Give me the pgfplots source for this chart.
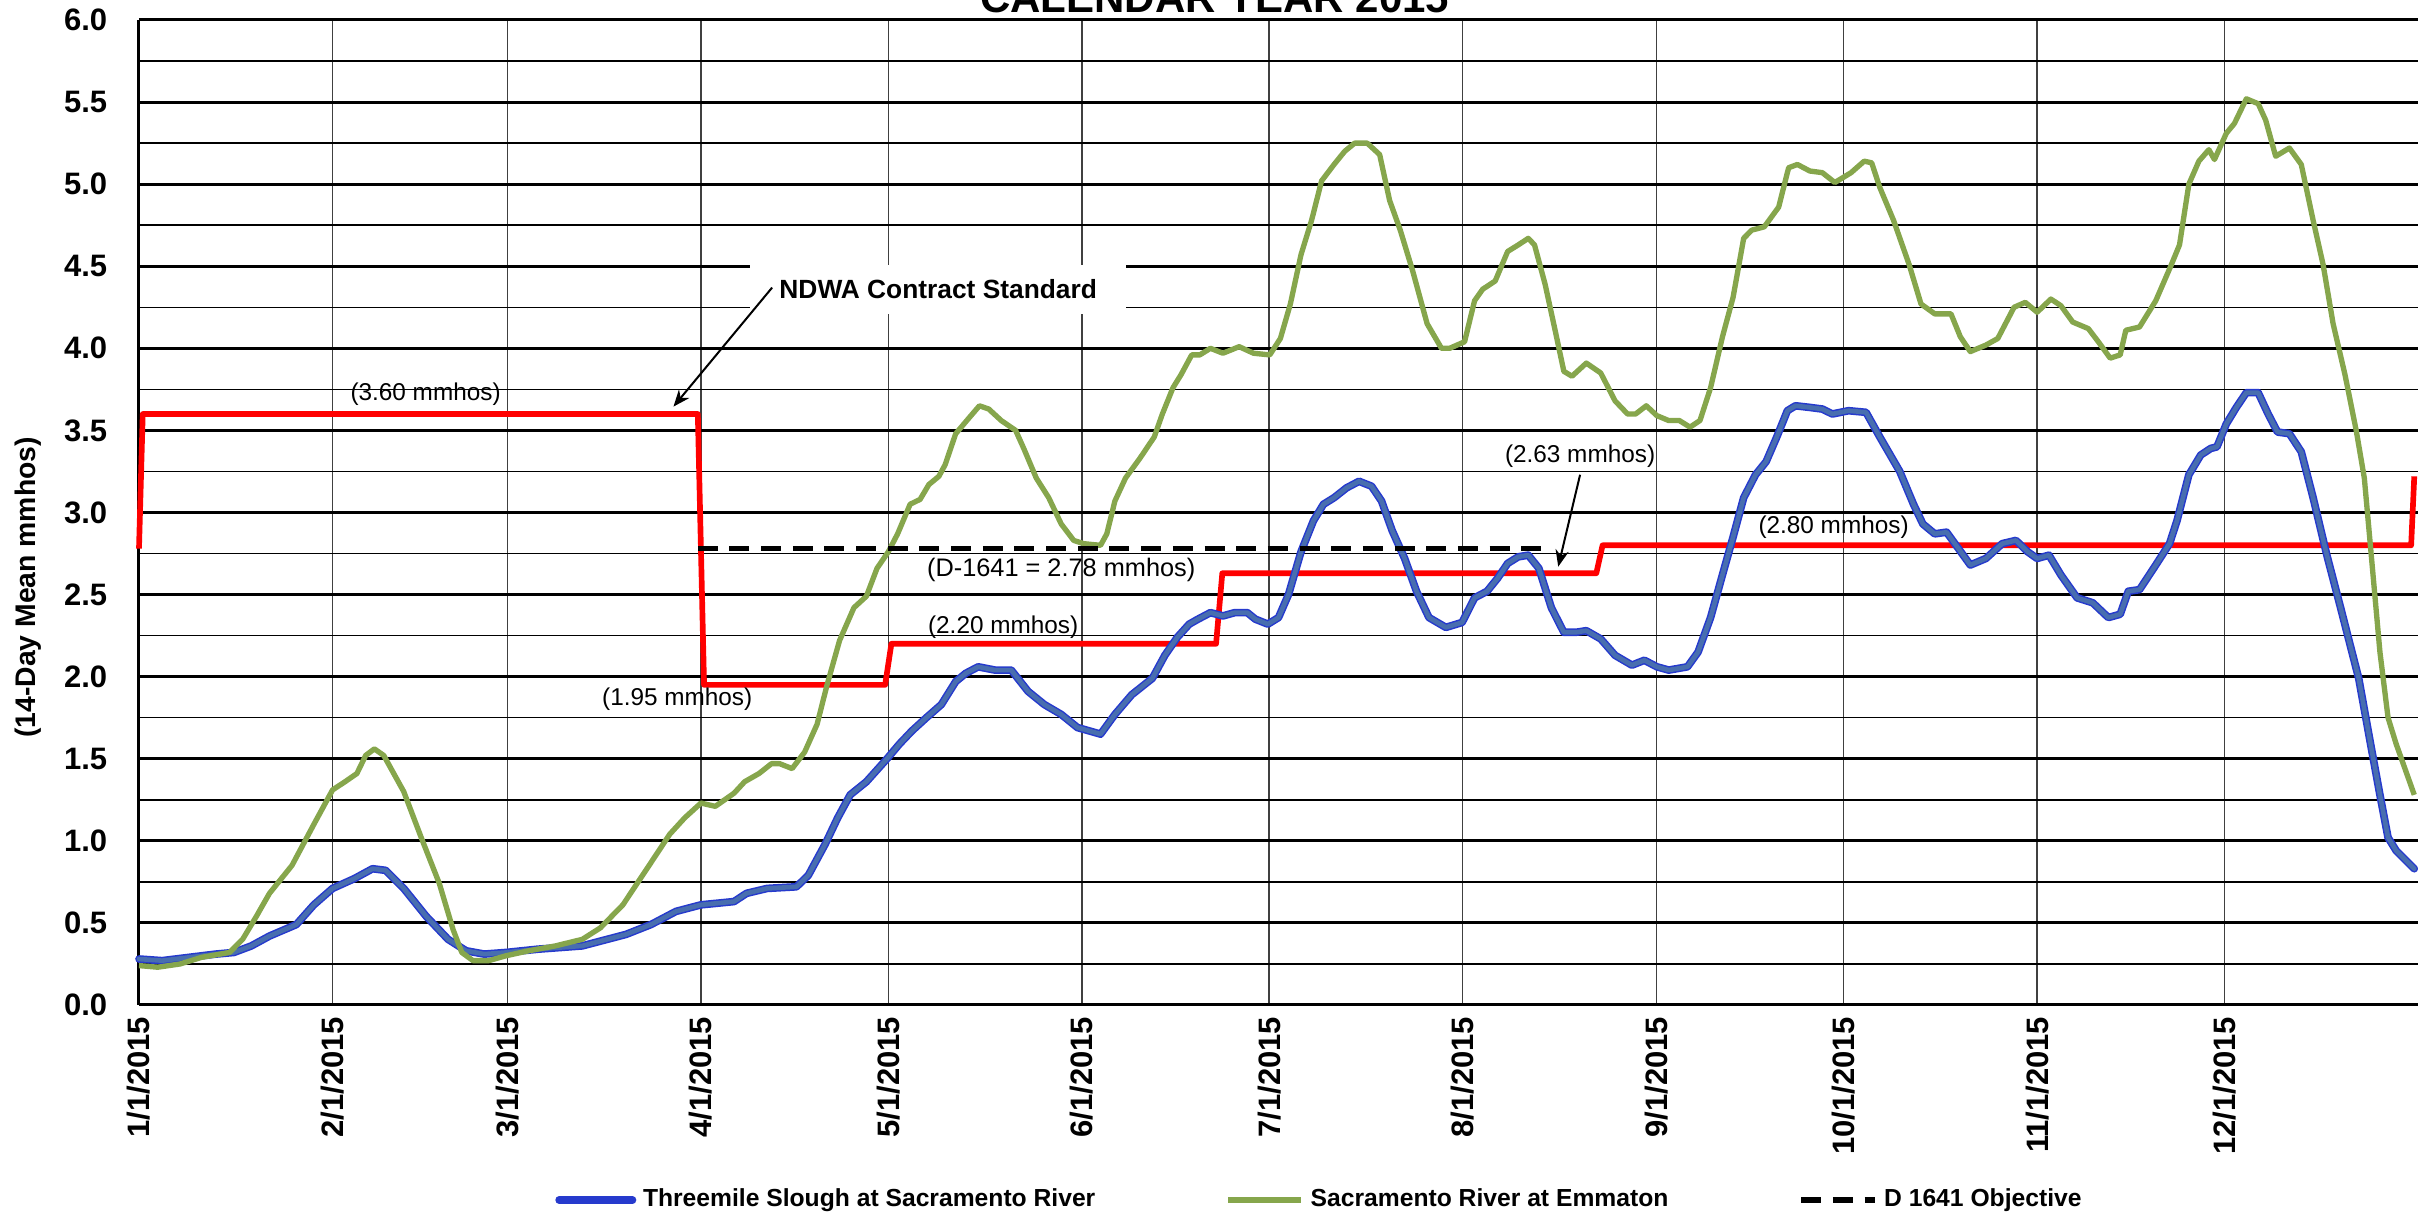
\documentclass[border=0pt]{standalone}
\usepackage{pgfplots}
\usepackage{pgfplotstable}
\pgfplotsset{compat=1.18}
\usepackage{fontspec}
\setmainfont{Liberation Sans}
\usetikzlibrary{arrows.meta}
\definecolor{blueout}{RGB}{38,58,205}
\definecolor{bluein}{RGB}{72,110,175}
\definecolor{greenl}{RGB}{134,166,76}

\pgfplotstableread{
d v
0 0.28
3.7 0.27
8 0.29
12.3 0.31
15.2 0.32
18 0.36
20.9 0.42
25.2 0.49
28 0.61
31 0.71
34.5 0.77
37.4 0.83
39.5 0.82
42.4 0.71
46 0.54
49.5 0.40
52.4 0.33
55.3 0.31
58.8 0.32
63.9 0.34
71 0.36
74 0.39
78 0.43
82 0.49
86 0.57
90 0.61
95.3 0.63
97.3 0.68
100.6 0.71
105.3 0.72
107.2 0.79
109.9 0.98
111.9 1.14
113.9 1.28
116.5 1.36
119.8 1.50
121.8 1.59
123.8 1.67
126.1 1.75
128.5 1.83
130.8 1.97
132.4 2.02
134.4 2.06
137.1 2.04
139.7 2.04
142.4 1.91
145 1.83
147.7 1.77
150.3 1.69
154 1.65
156.3 1.77
159 1.89
162.3 1.99
164.3 2.13
166.3 2.24
168.2 2.32
169.6 2.35
171.6 2.39
173.6 2.37
175.5 2.39
177.5 2.39
178.8 2.35
180.8 2.32
182.5 2.36
184.1 2.50
186.1 2.76
188.1 2.95
189.7 3.05
191.4 3.09
193.4 3.15
195.4 3.19
197.4 3.16
199 3.07
200.7 2.89
202.7 2.72
204.6 2.52
206.6 2.36
209.3 2.30
211.9 2.33
213.9 2.48
215.9 2.52
217.6 2.60
219.2 2.69
220.9 2.73
222.5 2.74
224.2 2.66
226.2 2.42
228.2 2.27
230.1 2.27
231.8 2.28
234.1 2.23
236.4 2.13
239.1 2.07
241.1 2.10
243.1 2.06
245 2.04
248 2.06
249.7 2.15
251.7 2.36
253.6 2.62
255.3 2.85
257 3.09
258.9 3.23
260.6 3.31
262.3 3.46
264 3.62
265.3 3.65
267.6 3.64
269.6 3.63
271.2 3.60
273.8 3.62
276.6 3.61
278.8 3.46
282 3.25
284.2 3.05
285.7 2.93
287.6 2.87
289.5 2.88
291.4 2.78
293.3 2.68
295.8 2.72
298.4 2.81
300.6 2.83
302.5 2.76
304 2.72
305.9 2.74
307.8 2.62
310.4 2.48
312.9 2.45
315.4 2.36
317.3 2.38
318.6 2.52
320.4 2.53
323 2.68
325.2 2.81
326.4 2.95
328.3 3.23
330.2 3.35
331.8 3.39
332.8 3.40
334.3 3.54
335.9 3.64
337.5 3.73
339.4 3.73
341 3.60
342.5 3.49
344.4 3.48
346.3 3.37
348.2 3.09
350.4 2.74
352.6 2.42
355.5 1.99
357.4 1.59
358.9 1.28
360.2 1.02
361.5 0.94
364.4 0.83
}\bluedata

\pgfplotstableread{
d v
0 0.24
3 0.23
6.6 0.25
10 0.29
14.5 0.32
16.6 0.40
18.8 0.54
20.9 0.68
24.5 0.85
28 1.10
31 1.31
33 1.36
34.9 1.41
36.3 1.52
37.7 1.56
39.2 1.52
42.4 1.30
45.2 1.02
48.1 0.74
50.3 0.46
51.7 0.32
53.5 0.27
56 0.27
58.8 0.30
62.4 0.33
66.7 0.36
71 0.40
73.9 0.47
77.5 0.61
81 0.81
85 1.04
87.4 1.14
90 1.23
92.3 1.21
95.3 1.29
97 1.36
99.3 1.41
101.3 1.47
102.6 1.47
104.6 1.44
106.6 1.54
108.6 1.71
110.2 1.95
112.2 2.22
114.5 2.42
116.5 2.49
118.2 2.66
120 2.76
121.5 2.87
123.5 3.05
125.1 3.08
126.5 3.17
128.1 3.22
129.1 3.29
130.8 3.48
132.8 3.57
134.6 3.65
136.1 3.63
138.1 3.56
140.4 3.50
141.7 3.39
143.7 3.21
145.7 3.09
147.7 2.93
149.7 2.83
151.3 2.81
154 2.80
155 2.87
156.3 3.07
158 3.21
160.3 3.33
162.6 3.46
163.9 3.60
165.6 3.76
166.9 3.84
168.6 3.96
169.9 3.96
171.6 4.00
173.6 3.97
176.2 4.01
178.5 3.97
181.1 3.96
182.8 4.06
184.4 4.27
186.1 4.57
187.8 4.78
189.4 5.02
191.4 5.12
193.1 5.20
194.7 5.25
196.7 5.25
198.7 5.18
200.3 4.90
202 4.72
204 4.47
206.3 4.15
208.6 4.00
209.9 4.00
212.3 4.04
213.9 4.29
215.2 4.36
217.2 4.41
219.2 4.59
220.9 4.63
222.5 4.67
223.5 4.63
225.2 4.39
226.8 4.11
228.2 3.86
229.5 3.83
231.8 3.91
234.1 3.85
236.4 3.68
238.4 3.60
239.7 3.60
241.4 3.65
243.1 3.59
245 3.56
246.7 3.56
248.4 3.52
250 3.56
251.7 3.76
253.6 4.07
255.3 4.31
257 4.67
258.3 4.72
260.3 4.74
262.6 4.86
264.2 5.10
265.6 5.12
267.6 5.08
269.6 5.07
271.6 5.01
274.2 5.07
276.3 5.14
277.5 5.13
278.8 4.98
281 4.78
283.5 4.51
285.4 4.27
287.6 4.21
290.2 4.21
291.7 4.07
293.3 3.98
295.8 4.02
297.7 4.06
300.3 4.25
302.1 4.28
304 4.22
306.2 4.30
307.8 4.26
309.7 4.16
312.2 4.12
313.8 4.04
315.7 3.94
317.3 3.96
318.2 4.11
320.4 4.13
323 4.29
325.5 4.51
326.8 4.63
328.3 5.00
329.9 5.14
331.5 5.21
332.4 5.15
334.3 5.31
335.6 5.37
337.5 5.52
339.4 5.49
340.6 5.39
342.2 5.17
344.4 5.22
346.3 5.12
348.2 4.78
349.8 4.51
351.4 4.15
353.3 3.84
355.1 3.50
356.4 3.21
357.7 2.66
358.9 2.15
360.2 1.75
361.5 1.59
364.4 1.28
}\greendata

\begin{document}
\begin{tikzpicture}
\begin{axis}[
  at={(0pt,0pt)}, anchor=south west,
  scale only axis, width=683.7pt, height=295.5pt,
  xmin=0, xmax=365, ymin=0, ymax=6,
  clip=false,
  axis x line*=bottom, axis y line*=left,
  axis line style={line width=0.9pt, black, -},
  xtick={0,31,59,90,120,151,181,212,243,273,304,334},
  xticklabels={1/1/2015,2/1/2015,3/1/2015,4/1/2015,5/1/2015,6/1/2015,7/1/2015,8/1/2015,9/1/2015,10/1/2015,11/1/2015,12/1/2015},
  ytick={0,0.5,1,1.5,2,2.5,3,3.5,4,4.5,5,5.5,6},
  yticklabels={0.0,0.5,1.0,1.5,2.0,2.5,3.0,3.5,4.0,4.5,5.0,5.5,6.0},
  minor ytick={0.25,0.75,1.25,1.75,2.25,2.75,3.25,3.75,4.25,4.75,5.25,5.75},
  major tick length=0pt, minor tick length=0pt,
  xmajorgrids, ymajorgrids, yminorgrids,
  major grid style={line width=0.9pt, black},
  minor grid style={line width=0.45pt, black},
  x grid style={line width=0.45pt, black!75},
  xticklabel style={rotate=90, anchor=east, font=\bfseries\fontsize{9.3}{10}\selectfont},
  yticklabel style={font=\bfseries\fontsize{9.3}{10}\selectfont, xshift=-6pt},
  ylabel={(14-Day Mean mmhos)},
  ylabel style={at={(axis description cs:-0.0487,0.424)}, anchor=center, font=\bfseries\fontsize{8.5}{10}\selectfont},
  legend columns=3,
  legend style={at={(axis description cs:0.519,-0.198)}, anchor=center, draw=none, fill=none,
    font=\bfseries\fontsize{7.4}{9}\selectfont,
    /tikz/every even column/.append style={column sep=37pt}},
  legend image code/.code={\draw[#1] (0pt,0pt) -- (22pt,0pt);},
]
% NDWA contract standard (red step line)
\addplot[red, line width=1.7pt, line join=round, forget plot] coordinates {
 (0,2.78) (0.6,3.6) (89.5,3.6) (90.5,1.95) (119.5,1.95) (120.5,2.20) (172.5,2.20) (173.5,2.63) (233.4,2.63) (234.4,2.80) (363.9,2.80) (364.4,3.22)};
\addplot[blueout, line width=2.3pt, line join=round, line cap=round] table[x=d, y=v] {\bluedata};
\addplot[bluein, line width=1.4pt, line join=round, line cap=round, forget plot] table[x=d, y=v] {\bluedata};
\addplot[greenl, line width=1.6pt, line join=round] table[x=d, y=v] {\greendata};
\addplot[black, line width=1.7pt, dash pattern=on 6pt off 3.5pt] coordinates {(89.5,2.78) (226,2.78)};
\legend{Threemile Slough at Sacramento River, Sacramento River at Emmaton, D 1641 Objective}

\node[font=\fontsize{7.3}{8}\selectfont] at (axis cs:45.9,3.72) {(3.60 mmhos)};
\node[font=\fontsize{7.3}{8}\selectfont] at (axis cs:86.2,1.86) {(1.95 mmhos)};
\node[font=\fontsize{7.3}{8}\selectfont] at (axis cs:138.4,2.30) {(2.20 mmhos)};
\node[font=\fontsize{7.6}{8}\selectfont] at (axis cs:147.7,2.65) {(D-1641 = 2.78 mmhos)};
\node[font=\fontsize{7.3}{8}\selectfont] at (axis cs:230.8,3.34) {(2.63 mmhos)};
\node[font=\fontsize{7.3}{8}\selectfont] at (axis cs:271.4,2.91) {(2.80 mmhos)};
\node[fill=white, inner xsep=8.8pt, inner ysep=4.5pt, font=\bfseries\fontsize{7.9}{9}\selectfont] at (axis cs:128,4.36) {NDWA Contract Standard};
\draw[-{Stealth[length=5pt,width=4pt]}, line width=0.6pt] (axis cs:101.4,4.37) -- (axis cs:85.6,3.645);
\draw[-{Stealth[length=5pt,width=4pt]}, line width=0.6pt] (axis cs:230.8,3.23) -- (axis cs:227.3,2.67);
\node[anchor=base, font=\bfseries\fontsize{12.6}{14}\selectfont] at (axis description cs:0.472,1.0081) {CALENDAR YEAR 2015};
\end{axis}
\pgfresetboundingbox
\useasboundingbox (-41.7pt,-64.2pt) rectangle (683.7pt,301.5pt);
\end{tikzpicture}
\end{document}
